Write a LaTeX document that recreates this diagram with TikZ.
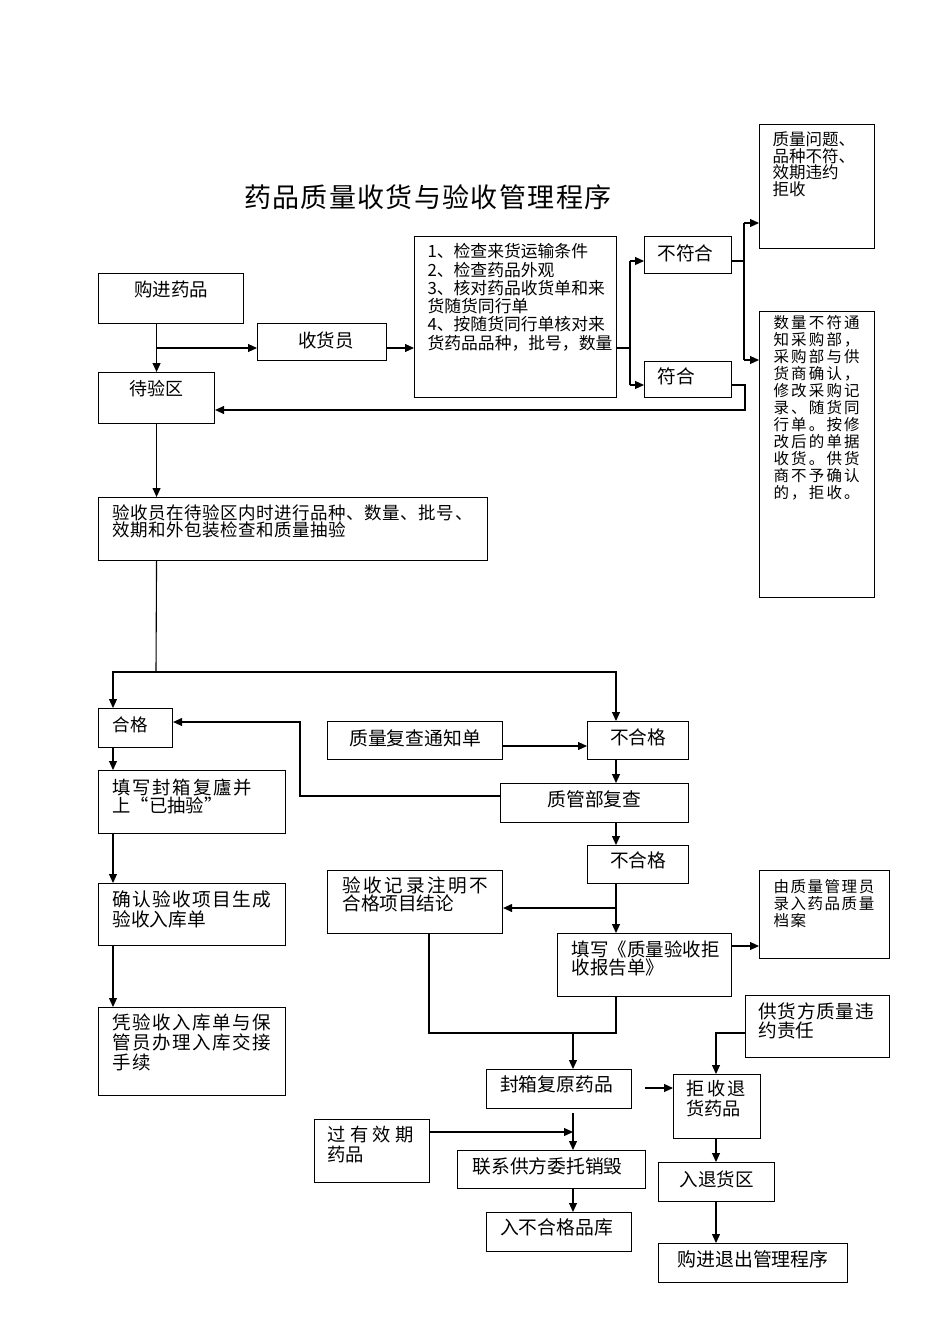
\documentclass[tikz,border=0pt]{standalone}
\usepackage{fontspec}
\setmainfont{Noto Sans CJK SC}
\usetikzlibrary{arrows.meta,calc}
\newcommand\ls[1]{\addfontfeature{LetterSpace=#1}}
\newcommand\Ct[4]{\vspace*{#1pt}\leftskip=#2pt plus 1fil\rightskip=0pt plus 1fil\parfillskip=0pt\fontsize{#3pt}{#4pt}\selectfont}
\newcommand\Lt[4]{\vspace*{#1pt}\raggedright\leftskip=#2pt\relax\fontsize{#3pt}{#4pt}\selectfont}
\newcommand\B[6]{\node[bx] (#1) at (#2,#3) {\parbox[c][#5pt][t]{#4pt}{#6\par}};}
\tikzset{
  bx/.style={draw, line width=1.1pt, inner sep=0pt, anchor=north west},
  ln/.style={line width=1.1pt},
  ar/.style={line width=1.1pt, -{Triangle[length=9pt,width=8pt]}},
}
\begin{document}
\begin{tikzpicture}[x=1pt,y=-1pt]
\fill[white] (0,0) rectangle (950,1344);
\useasboundingbox (0,0) rectangle (950,1344);

\node[inner sep=0pt, anchor=north west] (title) at (244,184) {\fontsize{27pt}{30pt}\selectfont\ls{5}药品质量收货与验收管理程序};

\B{A}{98}{273}{145}{50}{\Ct{7}{0}{18.5}{20}购进药品}
\B{B}{257}{323}{129}{37}{\Ct{8}{8}{18.5}{20}收货员}
\B{C}{414}{236}{202}{161}{\Lt{7}{13}{16.8}{18.3}1、检查来货运输条件\\2、检查药品外观\\3、核对药品收货单和来\\货随货同行单\\4、按随货同行单核对来\\货药品品种，批号，数量}
\B{D}{644}{236}{87}{37}{\Lt{8}{13}{18.7}{20}不符合}
\B{E}{644}{361}{87}{36}{\Lt{6}{13}{18.7}{20}符合}
\B{F}{759}{124}{115}{124}{\Lt{7}{13}{16.5}{16.7}质量问题、\\品种不符、\\效期违约\\拒收}
\B{G}{759}{311}{115}{286}{\Lt{4}{14}{15.5}{17}\ls{14}数量不符通\\知采购部，\\采购部与供\\货商确认，\\修改采购记\\录、随货同\\行单。按修\\改后的单据\\收货。供货\\商不予确认\\的，拒收。}
\B{H}{98}{372}{116}{51}{\Ct{8}{0}{18}{20}待验区}
\B{I}{98}{497}{389}{63}{\Lt{7}{14}{17.5}{17}\ls{3}验收员在待验区内时进行品种、数量、批号、\\效期和外包装检查和质量抽验}
\B{J}{98}{708}{74}{39}{\Lt{8}{14}{17.5}{20}合格}
\B{K}{327}{721}{175}{38}{\Ct{8}{0}{18.8}{20}质量复查通知单}
\B{L}{587}{721}{101}{38}{\Ct{7}{0}{18.7}{20}不合格}
\B{M}{500}{783}{188}{39}{\Ct{7}{0}{18.8}{20}质管部复查}
\B{N}{587}{845}{101}{38}{\Ct{6}{0}{18.7}{20}不合格}
\B{O}{327}{870}{175}{63}{\Lt{6}{15}{18.6}{18.3}{\ls{14}验收记录注明不}\\合格项目结论}
\B{P}{557}{933}{174}{63}{\Lt{7}{14}{18.5}{18.5}填写《质量验收拒\\收报告单》}
\B{Q}{759}{870}{130}{88}{\Lt{9}{14}{15.5}{16.7}\ls{10}由质量管理员\\录入药品质量\\档案}
\B{R}{745}{995}{144}{62}{\Lt{7}{13}{18.6}{19}{\ls{4}供货方质量违}\\约责任}
\B{S}{673}{1074}{87}{64}{\Lt{6}{13}{18.2}{20}{\ls{13}拒收退}\\货药品}
\B{T}{486}{1069}{145}{39}{\Ct{6}{-5}{18.8}{20}封箱复原药品}
\B{U}{314}{1119}{115}{63}{\Lt{7}{13}{18.3}{20}{\ls{23}过有效期}\\药品}
\B{V}{457}{1150}{188}{38}{\Ct{7}{-8}{18.75}{20}联系供方委托销毁}
\B{W}{486}{1212}{145}{39}{\Ct{6}{-5}{18.8}{20}入不合格品库}
\B{X}{658}{1162}{116}{39}{\Ct{8}{0}{18.5}{20}入退货区}
\B{Y}{658}{1243}{189}{39}{\Ct{7}{0}{18.9}{20}购进退出管理程序}
\B{Z1}{98}{770}{187}{63}{\Lt{8}{14}{18.3}{18.3}{\ls{10}填写封箱复廬并}\\上“已抽验”}
\B{Z2}{98}{883}{187}{62}{\Lt{7}{14}{18.7}{20}{\ls{7}确认验收项目生成}\\验收入库单}
\B{Z3}{98}{1007}{187}{88}{\Lt{6}{14}{18.5}{20}\ls{8}凭验收入库单与保\\管员办理入库交接\\手续}

% helper coordinates
\coordinate (b1) at (156,348);
\coordinate (c1) at (630,348);
\coordinate (yD) at (0,261);
\coordinate (yE) at (0,385);
\coordinate (d1) at (744,261);
\coordinate (yF) at (0,223);
\coordinate (yG) at (0,360);
\coordinate (e1) at (745,410);
\coordinate (i1) at (156,672);
\coordinate (jx) at (113,0);
\coordinate (lx) at (616,0);
\coordinate (yk) at (0,746);
\coordinate (lp) at (300,796);
\coordinate (yJ) at (0,722);
\coordinate (yO) at (0,908);
\coordinate (yQ) at (0,946);
\coordinate (yj) at (0,1033);
\coordinate (ox) at (429,0);
\coordinate (tx) at (573,0);
\coordinate (sx) at (716,0);
\coordinate (t2) at (645,1088);
\coordinate (t3) at (573,1113);
\coordinate (yU) at (0,1132);

% top part
\draw[ar] (H.north |- A.south) -- (H.north);
\draw[ar] (b1) -- (b1 -| B.west);
\draw[ar] (b1 -| B.east) -- (b1 -| C.west);
\draw[ln] (b1 -| C.east) -- (c1);
\draw[ln] (c1 |- yD) -- (c1 |- yE);
\draw[ar] (c1 |- yD) -- (yD -| D.west);
\draw[ar] (c1 |- yE) -- (yE -| E.west);
\draw[ln] (yD -| D.east) -- (d1);
\draw[ln] (d1 |- yF) -- (d1 |- yG);
\draw[ar] (d1 |- yF) -- (yF -| F.west);
\draw[ar] (d1 |- yG) -- (yG -| G.west);
\draw[ar] (yE -| E.east) -- (e1 |- yE) -- (e1) -- (e1 -| H.east);
\draw[ar] (H.south) -- (H.south |- I.north);

% split
\draw[ln] (H.south |- I.south) -- (i1);
\draw[ar] (i1) -- (jx |- i1) -- (jx |- J.north);
\draw[ar] (i1) -- (lx |- i1) -- (lx |- L.north);
\draw[ar] (yk -| K.east) -- (yk -| L.west);
\draw[ar] (lx |- L.south) -- (lx |- M.north);
\draw[ar] (lp -| M.west) -- (lp) -- (lp |- yJ) -- (yJ -| J.east);
\draw[ar] (lx |- M.south) -- (lx |- N.north);
\draw[ar] (lx |- N.south) -- (lx |- P.north);
\draw[ar] (lx |- yO) -- (yO -| O.east);
\draw[ar] (yQ -| P.east) -- (yQ -| Q.west);
\draw[ln] (lx |- P.south) -- (lx |- yj) -- (ox |- yj) -- (ox |- O.south);
\draw[ar] (tx |- yj) -- (tx |- T.north);

% left chain
\draw[ar] (jx |- J.south) -- (jx |- Z1.north);
\draw[ar] (jx |- Z1.south) -- (jx |- Z2.north);
\draw[ar] (jx |- Z2.south) -- (jx |- Z3.north);

% bottom
\draw[ar] (yj -| R.west) -- (sx |- yj) -- (sx |- S.north);
\draw[ar] (t2) -- (t2 -| S.west);
\draw[ar] (t3) -- (tx |- V.north);
\draw[ar] (yU -| U.east) -- (tx |- yU);
\draw[ar] (tx |- V.south) -- (tx |- W.north);
\draw[ar] (sx |- S.south) -- (sx |- X.north);
\draw[ar] (sx |- X.south) -- (sx |- Y.north);
\end{tikzpicture}
\end{document}
